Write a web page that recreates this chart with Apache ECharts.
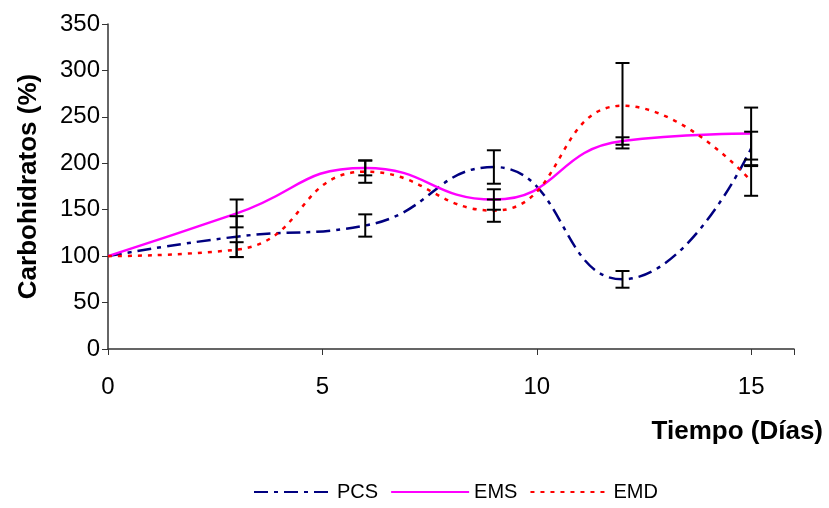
<!DOCTYPE html>
<html>
<head>
<meta charset="utf-8">
<script src="https://cdn.jsdelivr.net/npm/echarts@6/dist/echarts.min.js"></script>
<style>
  html, body { margin: 0; padding: 0; background: #fff; }
  #chart { width: 829px; height: 508px; }
</style>
</head>
<body>
<div id="chart"></div>
<script>
// Sampling days
const days = [0, 3, 6, 9, 12, 15];

// Carbohydrate content (%) per treatment, with standard deviation
const pcsValues = [100, 121, 133, 196, 75, 216];
const pcsErrors = [0, 22, 12, 18, 9, 18];

const emsValues = [100, 146, 195, 161, 224, 232];
const emsErrors = [0, 15, 8, 11, 4, 28];

const emdValues = [100, 107, 191, 149, 262, 181];
const emdErrors = [0, 8, 12, 12, 46, 16];

const seriesNames = ['PCS', 'EMS', 'EMD'];
const yTicks = [0, 50, 100, 150, 200, 250, 300, 350];

const FONT = 'Liberation Sans, Arial, sans-serif';

function pairs(vals) {
  return days.map((d, i) => [d, vals[i]]);
}
function errRows(vals, errs) {
  return days.map((d, i) => [d, vals[i] - errs[i], vals[i] + errs[i]]);
}

// Vertical error bar with caps, positioned through the axis scales
function renderErrorBar(params, api) {
  const x = api.value(0);
  const lo = api.coord([x, api.value(1)]);
  const hi = api.coord([x, api.value(2)]);
  if (Math.abs(lo[1] - hi[1]) < 0.5) return null;
  const half = 7;
  const style = { stroke: '#000', lineWidth: 2 };
  return {
    type: 'group',
    children: [
      { type: 'line', shape: { x1: lo[0], y1: lo[1], x2: hi[0], y2: hi[1] }, style },
      { type: 'line', shape: { x1: lo[0] - half, y1: lo[1], x2: lo[0] + half, y2: lo[1] }, style },
      { type: 'line', shape: { x1: hi[0] - half, y1: hi[1], x2: hi[0] + half, y2: hi[1] }, style }
    ]
  };
}

function errorSeries(vals, errs) {
  return {
    type: 'custom',
    renderItem: renderErrorBar,
    data: errRows(vals, errs),
    encode: { x: 0, y: [1, 2] },
    z: 5,
    silent: true
  };
}

const chart = echarts.init(document.getElementById('chart'), null, { renderer: 'canvas' });

chart.setOption({
  animation: false,
  backgroundColor: '#fff',
  grid: { left: 108, right: 35, top: 24, bottom: 159 },
  xAxis: {
    type: 'value',
    min: 0,
    max: 16,
    interval: 5,
    axisLine: { lineStyle: { color: '#333', width: 1.5 } },
    axisTick: { show: true, length: 6, lineStyle: { color: '#333' } },
    splitLine: { show: false },
    axisLabel: {
      margin: 26,
      fontFamily: FONT,
      fontSize: 24,
      color: '#000',
      formatter: v => (v % 5 === 0 && v <= 15 ? String(v) : '')
    }
  },
  yAxis: {
    type: 'value',
    min: yTicks[0],
    max: yTicks[yTicks.length - 1],
    interval: 50,
    name: 'Carbohidratos (%)',
    nameLocation: 'middle',
    nameGap: 66,
    nameTextStyle: { fontFamily: FONT, fontSize: 26, fontWeight: 'bold', color: '#000' },
    axisLine: { show: true, lineStyle: { color: '#333', width: 1.5 } },
    axisTick: { show: true, length: 6, lineStyle: { color: '#333' } },
    splitLine: { show: false },
    axisLabel: { margin: 8, fontFamily: FONT, fontSize: 24, color: '#000' }
  },
  legend: {
    data: seriesNames,
    left: 248,
    bottom: 1,
    itemWidth: 78,
    itemHeight: 10,
    itemGap: 12,
    itemStyle: { opacity: 0 },
    textStyle: { fontFamily: FONT, fontSize: 20, color: '#000' }
  },
  graphic: [
    {
      type: 'text',
      right: 6,
      top: 419,
      style: { text: 'Tiempo (Días)', font: 'bold 26px ' + FONT, fill: '#000' }
    }
  ],
  series: [
    {
      name: 'PCS',
      type: 'line',
      data: pairs(pcsValues),
      smooth: 0.5,
      symbol: 'none',
      lineStyle: { color: '#000080', width: 2.5, type: [14, 6, 4, 6] },
      itemStyle: { color: '#000080' },
      z: 3
    },
    {
      name: 'EMS',
      type: 'line',
      data: pairs(emsValues),
      smooth: 0.5,
      symbol: 'none',
      lineStyle: { color: '#FF00FF', width: 2.5, type: 'solid' },
      itemStyle: { color: '#FF00FF' },
      z: 3
    },
    {
      name: 'EMD',
      type: 'line',
      data: pairs(emdValues),
      smooth: 0.5,
      symbol: 'none',
      lineStyle: { color: '#FF0000', width: 2.5, type: [4, 6] },
      itemStyle: { color: '#FF0000' },
      z: 3
    },
    errorSeries(pcsValues, pcsErrors),
    errorSeries(emsValues, emsErrors),
    errorSeries(emdValues, emdErrors)
  ]
});
</script>
</body>
</html>
